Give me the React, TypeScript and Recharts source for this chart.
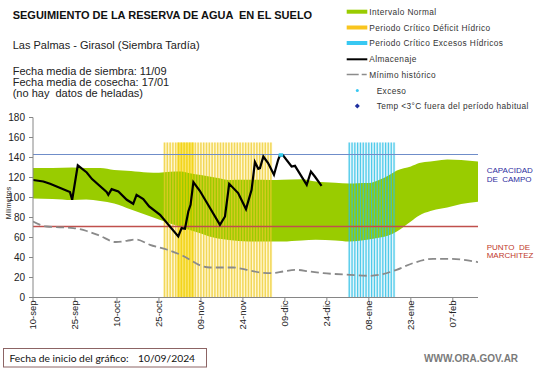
import React from 'react';
import { ComposedChart, Area, Line, Bar, Cell, XAxis, YAxis } from 'recharts';

const FONT = '"Liberation Sans", Arial, sans-serif';

// x axis: days since 10-sep
const tickDays = [0, 15, 30, 45, 60, 75, 90, 105, 120, 135, 150];
const tickLabels = ['10-sep', '25-sep', '10-oct', '25-oct', '09-nov', '24-nov', '09-dic', '24-dic', '08-ene', '23-ene', '07-feb'];
const yTicks = [0, 20, 40, 60, 80, 100, 120, 140, 160, 180];
const xMax = 159;

// Intervalo normal (green band)
const bandDays = [0, 7, 14, 19, 24, 29, 35, 41, 45, 49, 53, 56, 60, 63, 66, 70, 77, 85, 89, 96, 101, 108, 113, 116, 120, 124, 127, 130, 135, 138, 142, 146, 148, 153, 159];
const bandHigh = [129.5, 129.5, 130, 129.5, 129.5, 127.5, 126.5, 125, 124.8, 125.8, 126, 124.2, 122.5, 121, 119.5, 117.5, 117.7, 117.5, 117.7, 118.2, 116, 114.8, 114, 114.2, 114.4, 118, 122, 127, 131, 134.5, 136, 137.5, 138, 137.5, 136];
const bandLow = [99, 98.5, 97.5, 98, 96.5, 94, 88, 82, 78, 74, 70.5, 67.5, 64, 61, 59, 57.5, 56, 56, 56, 57, 57.7, 57, 56, 56.5, 58, 60, 62, 66, 76, 82, 86.5, 89, 90, 93.4, 95.8];

// Almacenaje (black line)
const storageDays = [0, 3.7, 6.1, 13.2, 14, 16, 19.2, 21.1, 26.3, 26.9, 28.1, 30.5, 33.5, 35.8, 37, 39.4, 41.5, 45.4, 51.9, 53.1, 54.3, 55.5, 56.3, 57.3, 59.6, 66.8, 68.6, 70.1, 73.3, 76.1, 78.1, 79.3, 80.5, 81.1, 82.3, 84, 86.1, 87.6, 88.2, 89.4, 92.4, 93.6, 97.8, 99.3, 100.7, 103.1];
const storageMm = [117.5, 116, 113.7, 105.4, 97.7, 132.2, 125, 118.4, 105.5, 102.7, 108.4, 106, 97.7, 93.7, 102.7, 98.4, 91, 82.7, 61, 69.4, 68.7, 86, 92.7, 115.4, 106.7, 72.7, 81, 113.7, 104.4, 88.4, 107.7, 135.4, 128.7, 129.4, 141, 134.4, 122.7, 137.7, 142, 142, 131, 131.7, 112.7, 126, 121, 111.7];

// Mínimo histórico (dashed)
const minDays = [0, 4.9, 14.4, 19.2, 23.9, 29.6, 33.5, 37, 41.8, 47.8, 53.7, 60.8, 63.2, 71.5, 76.3, 81.1, 85.3, 89.4, 93.6, 98.9, 103.7, 113.2, 120.4, 125, 129.9, 135.8, 143, 148.9, 159];
const minMm = [76, 71, 69.4, 66.5, 61.7, 55.5, 56.7, 58, 52.7, 48, 41.5, 31, 30, 30, 27.7, 25, 24.4, 26, 27.7, 26, 24.4, 22.7, 21.7, 23.4, 27.7, 34.4, 38.7, 38.7, 35.4];

// Exceso
const excessDays = [87.8, 89.4];
const excessMm = [142.6, 142.6];

const fieldCapacity = 143;
const wiltingPoint = 71;

// Periodos críticos
const periodTop = 155;
const deficitPeriod = [46.5, 85.5];
const deficitPeakPeriod = [51.5, 57.5];
const deficitStripeDays = [47, 48, 49, 50, 51, 52, 53, 54, 55, 56, 57, 58, 59, 60, 61, 62, 63, 64, 65, 66, 67, 68, 69, 70, 71, 72, 73, 74, 75, 76, 77, 78, 79, 80, 81, 82, 83, 84, 85];
const deficitPeakDays = [52, 53, 54, 55, 56, 57];
const excessPeriod = [112.5, 129.5];
const excessStripeDays = [113, 114, 115, 116, 117, 118, 119, 120, 121, 122, 123, 124, 125, 126, 127, 128, 129];

const bandData = bandDays.map((d, i) => ({ day: d, range: [bandLow[i], bandHigh[i]] }));
const storageData = storageDays.map((d, i) => ({ day: d, v: storageMm[i] }));
const minData = minDays.map((d, i) => ({ day: d, v: minMm[i] }));
const excessData = excessDays.map((d, i) => ({ day: d, v: excessMm[i] }));
const ccData = [{ day: 0, v: fieldCapacity }, { day: xMax, v: fieldCapacity }];
const pmpData = [{ day: 0, v: wiltingPoint }, { day: xMax, v: wiltingPoint }];
const deficitBg = deficitPeriod.map((d) => ({ day: d, v: periodTop }));
const peakBg = deficitPeakPeriod.map((d) => ({ day: d, v: periodTop }));
const excessBg = excessPeriod.map((d) => ({ day: d, v: periodTop }));
const stripes = [
  ...deficitStripeDays.map((d) => ({ day: d, top: periodTop, kind: deficitPeakDays.includes(d) ? 'peak' : 'deficit' })),
  ...excessStripeDays.map((d) => ({ day: d, top: periodTop, kind: 'excess' })),
];
const stripeColor: Record<string, string> = { deficit: '#EDCB2A', peak: '#F0CD00', excess: '#2ABFE6' };
const stripeOpacity: Record<string, number> = { deficit: 0.72, peak: 0.75, excess: 0.8 };
const stripeWidth: Record<string, number> = { deficit: 1.5, peak: 1.5, excess: 1.3 };

const XTick = (props: any) => {
  const { x, y, payload } = props;
  const idx = tickDays.indexOf(payload.value);
  const label = idx >= 0 ? tickLabels[idx] : '';
  const ty = y - 2;
  return (
    <text x={x} y={ty} transform={`rotate(-90, ${x}, ${ty})`} textAnchor="end" dy="0.35em" fontSize={9.5} fontFamily={FONT} fill="#222">
      {label}
    </text>
  );
};

const StripeShape = (props: any) => {
  const { x, y, width, height, payload } = props;
  if (height == null || height <= 0) return null;
  const kind = payload?.kind ?? 'deficit';
  const w = stripeWidth[kind];
  return <rect x={x + width / 2 - w / 2} y={y} width={w} height={height} fill={stripeColor[kind]} fillOpacity={stripeOpacity[kind]} />;
};

const legendRows = [
  { y: 11.7, kind: 'rect', color: '#99CC00', label: 'Intervalo Normal' },
  { y: 27.5, kind: 'rect', color: '#F9C51E', label: 'Periodo Crítico Déficit Hídrico' },
  { y: 43, kind: 'rect', color: '#38C8F2', label: 'Periodo Crítico Excesos Hídricos' },
  { y: 59.3, kind: 'line', color: '#000', label: 'Almacenaje' },
  { y: 74.5, kind: 'dash', color: '#8C8C8C', label: 'Mínimo histórico' },
  { y: 90.5, kind: 'dot', color: '#38C8F2', label: 'Exceso' },
  { y: 106, kind: 'diamond', color: '#1F2F9F', label: 'Temp <3°C fuera del período habitual' },
];

export default function App() {
  return (
    <div style={{ position: 'absolute', left: 0, top: 0, width: 541, height: 368, background: '#fff' }}>
      <div style={{ position: 'absolute', left: 0, top: 0 }}>
        <ComposedChart width={541} height={368} data={stripes} margin={{ top: 117.5, right: 63, bottom: 30.5, left: 0 }}>
          <XAxis
            dataKey="day"
            type="number"
            domain={[0, xMax]}
            ticks={tickDays}
            interval={0}
            allowDataOverflow
            height={40}
            tickSize={4}
            tickMargin={1}
            stroke="#868686"
            tick={<XTick />}
          />
          <YAxis
            type="number"
            domain={[0, 180]}
            ticks={yTicks}
            interval={0}
            allowDataOverflow
            width={33}
            tickSize={4}
            tickMargin={4}
            stroke="#868686"
            tick={{ fontSize: 10, fill: '#222', fontFamily: FONT }}
          />
          <Area data={deficitBg} dataKey="v" type="linear" stroke="none" fill="#FFF8D4" fillOpacity={1} isAnimationActive={false} dot={false} activeDot={false} />
          <Area data={peakBg} dataKey="v" type="linear" stroke="none" fill="#FAE66E" fillOpacity={1} isAnimationActive={false} dot={false} activeDot={false} />
          <Area data={excessBg} dataKey="v" type="linear" stroke="none" fill="#E6F6FB" fillOpacity={1} isAnimationActive={false} dot={false} activeDot={false} />
          <Area data={bandData} dataKey="range" type="monotone" stroke="none" fill="#99CC00" fillOpacity={1} isAnimationActive={false} dot={false} activeDot={false} />
          <Bar dataKey="top" barSize={1.5} isAnimationActive={false} shape={<StripeShape />}>
            {stripes.map((s, i) => (
              <Cell key={i} fill={stripeColor[s.kind]} />
            ))}
          </Bar>
          <Line data={ccData} dataKey="v" type="linear" stroke="#6F8DC9" strokeWidth={1.2} dot={false} activeDot={false} isAnimationActive={false} />
          <Line data={pmpData} dataKey="v" type="linear" stroke="#C0504D" strokeWidth={1.3} dot={false} activeDot={false} isAnimationActive={false} />
          <Line data={minData} dataKey="v" type="monotone" stroke="#8A8A8A" strokeWidth={1.8} strokeDasharray="8 4" dot={false} activeDot={false} isAnimationActive={false} />
          <Line data={storageData} dataKey="v" type="linear" stroke="#000" strokeWidth={2.2} dot={false} activeDot={false} isAnimationActive={false} />
          <Line data={excessData} dataKey="v" type="linear" stroke="#33CCEE" strokeWidth={3.5} dot={false} activeDot={false} isAnimationActive={false} />
        </ComposedChart>
      </div>
      <svg width={541} height={368} style={{ position: 'absolute', left: 0, top: 0, pointerEvents: 'none' }} fontFamily={FONT}>
        <text x={12.7} y={19} fontSize={11} fontWeight="bold" fill="#111" style={{ whiteSpace: 'pre' }}>
          SEGUIMIENTO DE LA RESERVA DE AGUA  EN EL SUELO
        </text>
        <text x={12.7} y={49.3} fontSize={11} fill="#222">Las Palmas - Girasol (Siembra Tardía)</text>
        <text x={12.7} y={75} fontSize={11} fill="#222">Fecha media de siembra: 11/09</text>
        <text x={12.7} y={86} fontSize={11} fill="#222">Fecha media de cosecha: 17/01</text>
        <text x={12.7} y={97} fontSize={11} fill="#222" style={{ whiteSpace: 'pre' }}>(no hay  datos de heladas)</text>

        {legendRows.map((r, i) => {
          let mark: React.ReactNode = null;
          if (r.kind === 'rect') mark = <rect x={346.7} y={r.y - 2} width={20.6} height={4} fill={r.color} />;
          if (r.kind === 'line') mark = <line x1={346.7} x2={367.3} y1={r.y} y2={r.y} stroke={r.color} strokeWidth={2} />;
          if (r.kind === 'dash')
            mark = <line x1={346.7} x2={367.3} y1={r.y} y2={r.y} stroke={r.color} strokeWidth={1.6} strokeDasharray="12 3 5 10" />;
          if (r.kind === 'dot') mark = <circle cx={357.3} cy={r.y} r={1.5} fill={r.color} />;
          if (r.kind === 'diamond')
            mark = <polygon points={`357.3,${r.y - 2.5} 359.8,${r.y} 357.3,${r.y + 2.5} 354.8,${r.y}`} fill={r.color} />;
          const tx = r.kind === 'dot' || r.kind === 'diamond' ? 376.7 : 369.3;
          return (
            <g key={i}>
              {mark}
              <text x={tx} y={r.y + 3} fontSize={8.3} letterSpacing={0.4} fill="#333">{r.label}</text>
            </g>
          );
        })}

        <text x={9} y={203} transform="rotate(-90, 9, 203)" textAnchor="middle" dy="0.35em" fontSize={7} fill="#222">Milímetros</text>

        <text x={486.7} y={173} fontSize={8} fill="#2E2EA0">CAPACIDAD</text>
        <text x={486.7} y={182} fontSize={8} fill="#2E2EA0" style={{ whiteSpace: 'pre' }}>DE  CAMPO</text>
        <text x={486.7} y={249.5} fontSize={8} fill="#C0392B" style={{ whiteSpace: 'pre' }}>PUNTO  DE</text>
        <text x={486.7} y={258} fontSize={8} fill="#C0392B">MARCHITEZ</text>

        <rect x={3.5} y={348.5} width={203} height={18.5} fill="#fff" stroke="#8C6464" strokeWidth={1} />
        <text x={9.5} y={361.5} fontSize={10.3} fontFamily="Lato, 'Open Sans', sans-serif" fill="#111">
          Fecha de inicio del gráfico:
        </text>
        <text x={138} y={361.5} fontSize={10.3} fontFamily="Lato, 'Open Sans', sans-serif" fill="#111">10/09/2024</text>
        <text x={424} y={362} fontSize={10} fontWeight="bold" fill="#7A7A7A">WWW.ORA.GOV.AR</text>
      </svg>
    </div>
  );
}
